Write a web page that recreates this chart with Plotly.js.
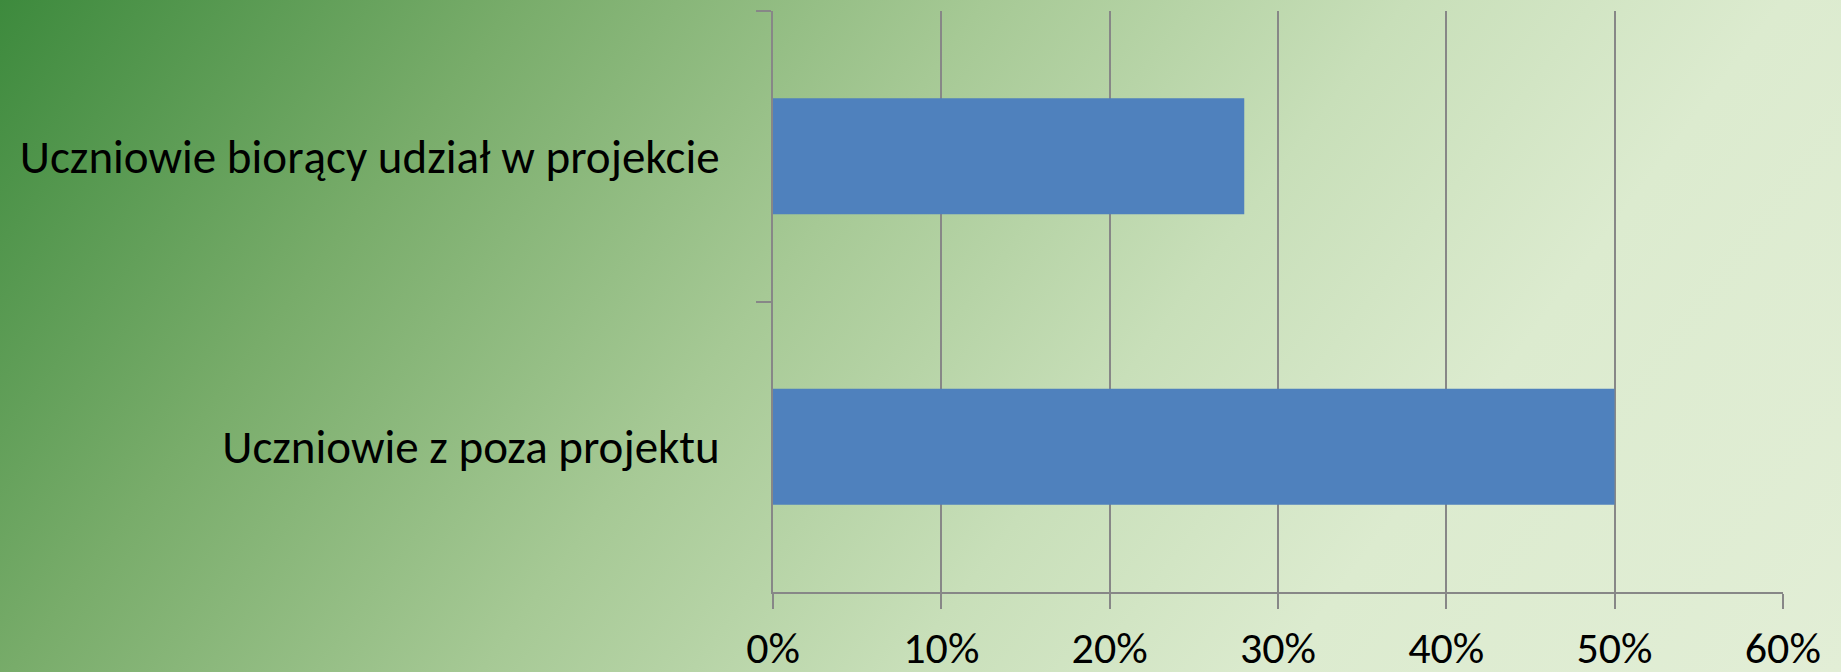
<!DOCTYPE html>
<html>
<head>
<meta charset="utf-8">
<script src="https://cdn.plot.ly/plotly-3.0.1.min.js"></script>
<style>
html,body{margin:0;padding:0;width:1841px;height:672px;overflow:hidden;}
body{background:linear-gradient(127deg,#3d8a3d 0%,#78ac6a 22%,#a6c995 42%,#c8dfb9 60%,#dcebcf 76%,#e2eed6 100%);}
#chart{width:1841px;height:672px;}
</style>
</head>
<body>
<div id="chart"></div>
<script>
const categories = ["Uczniowie biorący udział w projekcie", "Uczniowie z poza projektu"];
const values = [0.28, 0.50];
const xTickValues = [0, 0.1, 0.2, 0.3, 0.4, 0.5, 0.6];
const xTickLabels = ["0%", "10%", "20%", "30%", "40%", "50%", "60%"];

const font = "Carlito, Lato, 'Liberation Sans', sans-serif";

Plotly.newPlot("chart", [{
  type: "bar",
  orientation: "h",
  y: categories,
  x: values,
  marker: {color: "#4f81bd"},
  hoverinfo: "skip"
}], {
  width: 1841,
  height: 672,
  paper_bgcolor: "rgba(0,0,0,0)",
  plot_bgcolor: "rgba(0,0,0,0)",
  margin: {l: 773, r: 58, t: 11, b: 80, pad: 0},
  bargap: 0.6,
  showlegend: false,
  font: {family: font, size: 47, color: "#000"},
  xaxis: {
    range: [0, 0.6001],
    tickvals: xTickValues,
    ticktext: xTickLabels,
    showgrid: true,
    gridcolor: "#878787",
    gridwidth: 2,
    zeroline: false,
    showline: true,
    linecolor: "#878787",
    linewidth: 2,
    ticks: "outside",
    ticklen: 15,
    tickwidth: 2,
    tickcolor: "#878787",
    ticklabelstandoff: 1,
    tickfont: {family: font, size: 44, color: "#000"},
    fixedrange: true
  },
  yaxis: {
    type: "category",
    categoryorder: "array",
    categoryarray: categories,
    autorange: "reversed",
    tickson: "boundaries",
    showgrid: false,
    zeroline: false,
    showline: true,
    linecolor: "#878787",
    linewidth: 2,
    ticks: "outside",
    ticklen: 15,
    tickwidth: 2,
    tickcolor: "#878787",
    ticklabelstandoff: 42,
    tickfont: {family: font, size: 47, color: "#000"},
    fixedrange: true
  }
}, {displayModeBar: false, staticPlot: true});
</script>
</body>
</html>
